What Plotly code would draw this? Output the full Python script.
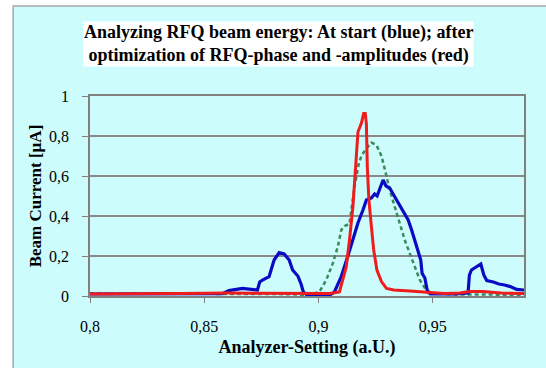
import plotly.graph_objects as go

# ---- data ----
blue_x = [0.8, 0.81, 0.82, 0.83, 0.84, 0.85, 0.858, 0.8608, 0.8667, 0.8733, 0.8743, 0.8755,
          0.8784, 0.8806, 0.8828, 0.885, 0.8872, 0.8887, 0.891, 0.8924, 0.8934, 0.895, 0.9,
          0.905, 0.907, 0.910, 0.9129, 0.9151, 0.9173, 0.9195, 0.921, 0.9232, 0.9246, 0.9257,
          0.927, 0.9283, 0.9296, 0.9312, 0.9327, 0.9342, 0.9356, 0.9378, 0.9393, 0.9408,
          0.9422, 0.9437, 0.9448, 0.9454, 0.9466, 0.9476, 0.949, 0.955, 0.96, 0.9655, 0.9661,
          0.967, 0.9711, 0.9724, 0.9737, 0.9766, 0.979, 0.9815, 0.984, 0.9868, 0.99]
blue_y = [0.01, 0.01, 0.01, 0.01, 0.01, 0.01, 0.012, 0.027, 0.038, 0.03, 0.07, 0.08,
          0.097, 0.18, 0.217, 0.21, 0.18, 0.13, 0.10, 0.06, 0.02, 0.005, 0.003,
          0.005, 0.02, 0.097, 0.2, 0.28, 0.365, 0.43, 0.48, 0.49, 0.51, 0.50,
          0.535, 0.58, 0.55, 0.54, 0.51, 0.48, 0.45, 0.41, 0.38, 0.33,
          0.28, 0.23, 0.18, 0.113, 0.09, 0.03, 0.01, 0.01, 0.01, 0.015, 0.105,
          0.13, 0.16, 0.105, 0.077, 0.07, 0.06, 0.055, 0.047, 0.033, 0.03]

red_x = [0.8, 0.82, 0.84, 0.86, 0.88, 0.89, 0.9, 0.905, 0.9092, 0.9122, 0.9136, 0.9151,
         0.9163, 0.9173, 0.9188, 0.9198, 0.9205, 0.921, 0.9214, 0.9221, 0.9232, 0.9242,
         0.9256, 0.9276, 0.9298, 0.933, 0.94, 0.948, 0.955, 0.962, 0.966, 0.972, 0.98, 0.99]
red_y = [0.01, 0.01, 0.012, 0.015, 0.015, 0.013, 0.012, 0.012, 0.02, 0.147, 0.28, 0.447,
         0.647, 0.82, 0.863, 0.913, 0.913, 0.86, 0.647, 0.48, 0.347, 0.23,
         0.13, 0.072, 0.038, 0.03, 0.025, 0.02, 0.012, 0.015, 0.022, 0.022, 0.015, 0.012]

green_x = [0.8, 0.82, 0.84, 0.86, 0.88, 0.89, 0.895, 0.9004, 0.9034, 0.9063, 0.9085, 0.910,
           0.9114, 0.9136, 0.9143, 0.9158, 0.9177, 0.9188, 0.921, 0.9232, 0.9254, 0.9276,
           0.9295, 0.9312, 0.9334, 0.9356, 0.9378, 0.94, 0.9422, 0.9444, 0.9466, 0.948,
           0.96, 0.975, 0.99]
green_y = [0.012, 0.012, 0.012, 0.012, 0.01, 0.008, 0.005, 0.02, 0.08, 0.163, 0.247, 0.33,
           0.35, 0.36, 0.43, 0.547, 0.663, 0.70, 0.738, 0.767, 0.755, 0.70,
           0.613, 0.53, 0.447, 0.365, 0.28, 0.213, 0.147, 0.08, 0.04, 0.015,
           0.008, 0.006, 0.006]

x_ticks = [0.8, 0.85, 0.9, 0.95]
y_ticks = [0, 0.2, 0.4, 0.6, 0.8, 1]

title_lines = ["Analyzing RFQ beam energy: At start (blue); after",
               "optimization of RFQ-phase and -amplitudes (red)"]

serif = "Liberation Serif, Times New Roman, serif"

fig = go.Figure()
fig.add_trace(go.Scatter(x=green_x, y=green_y, mode="lines",
                         line=dict(color="#3a8a5c", width=2.5, dash="4px,3px"), hoverinfo="skip"))
fig.add_trace(go.Scatter(x=blue_x, y=blue_y, mode="lines",
                         line=dict(color="#0a0ac4", width=3.2), hoverinfo="skip"))
fig.add_trace(go.Scatter(x=red_x, y=red_y, mode="lines",
                         line=dict(color="#ee1c1c", width=3), hoverinfo="skip"))

# outer panel (light turquoise)
fig.add_shape(type="rect", xref="paper", yref="paper", x0=-0.177, x1=1.1, y0=-0.42, y1=1.45,
              fillcolor="#ccfcfc", line=dict(color="#a8a8a8", width=1.5), layer="below")

fig.add_annotation(text="<br>".join("<b>%s</b>" % t for t in title_lines),
                   xref="paper", yref="paper",
                   x=(278 - 90) / 434, y=(296 - 44) / 200, xanchor="center", yanchor="middle",
                   showarrow=False, align="center",
                   font=dict(family=serif, size=18, color="black"),
                   bgcolor="white", borderpad=0)

fig.update_layout(
    width=546, height=368,
    margin=dict(l=90, r=22, t=96, b=72, autoexpand=False),
    paper_bgcolor="white", plot_bgcolor="white",
    separators=",.",
    showlegend=False,
    font=dict(family=serif, size=16, color="black"),
    xaxis=dict(range=[0.8, 0.99], tickvals=x_ticks, ticks="outside", ticklen=5,
               tickcolor="#808080", showline=True, linecolor="#808080", linewidth=1.5,
               mirror=True, showgrid=False, zeroline=False, ticklabelstandoff=10,
               automargin=False,
               title=dict(text="<b>Analyzer-Setting (a.U.)</b>", standoff=6,
                          font=dict(family=serif, size=18))),
    yaxis=dict(range=[0, 1], tickvals=y_ticks, ticks="outside", ticklen=6,
               tickcolor="#808080", showline=True, linecolor="#808080", linewidth=1.5,
               mirror=True, showgrid=True, gridcolor="#8a8a8a", gridwidth=1.5,
               zeroline=False, ticklabelstandoff=10, automargin=False,
               title=dict(text="<b>Beam Current [µA]</b>", standoff=3,
                          font=dict(family=serif, size=17))),
)

fig.write_html("out.html", config={"displayModeBar": False},
               post_script="document.body.style.margin='0';")
